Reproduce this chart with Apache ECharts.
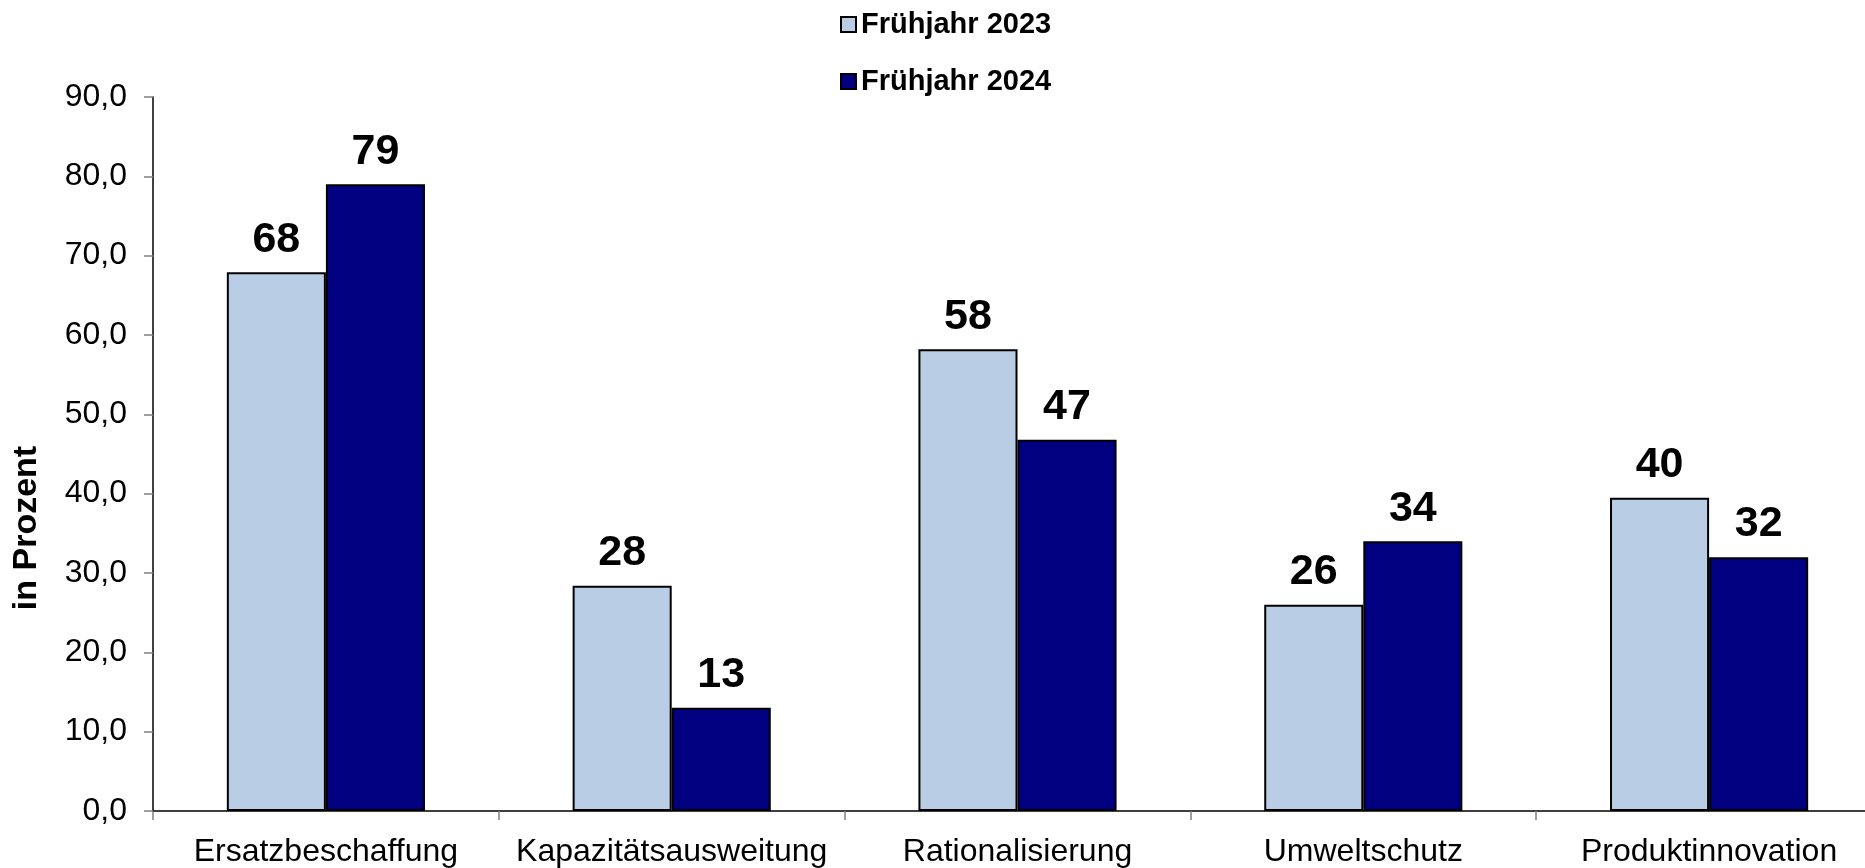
<!DOCTYPE html>
<html>
<head>
<meta charset="utf-8">
<script src="https://cdn.jsdelivr.net/npm/echarts@6/dist/echarts.min.js"></script>
<style>
  html, body { margin: 0; padding: 0; background: #fff; overflow: hidden; }
  /* Diagramm ist rechts angeschnitten, daher breiter als das Fenster */
  #main { width: 1890px; height: 868px; }
</style>
</head>
<body>
<div id="main"></div>
<script>
// Kategorien und Werte (in Prozent)
const categories = ['Ersatzbeschaffung', 'Kapazitätsausweitung', 'Rationalisierung', 'Umweltschutz', 'Produktinnovation'];
const seriesNames = ['Frühjahr 2023', 'Frühjahr 2024'];
const values2023 = [67.9, 28.4, 58.2, 26.0, 39.5];
const values2024 = [79.0, 13.0, 46.8, 34.0, 32.0];
const yTicks = [0, 10, 20, 30, 40, 50, 60, 70, 80, 90];

const font = '"Liberation Sans", Arial, sans-serif';

let myChart = echarts.init(document.getElementById('main'));

function barSeries(name, data, color) {
  return {
    name: name,
    type: 'bar',
    data: data,
    barGap: '0%',
    barCategoryGap: '42.7%',
    itemStyle: { color: color, borderColor: '#000', borderWidth: 2 },
    label: {
      show: true,
      position: 'top',
      distance: 11,
      fontFamily: font,
      fontSize: 43,
      fontWeight: 'bold',
      color: '#000',
      formatter: p => Math.round(p.value)
    }
  };
}

let option = {
  animation: false,
  textStyle: { fontFamily: font },
  legend: {
    orient: 'vertical',
    left: 835,
    top: 5,
    icon: 'rect',
    itemWidth: 15,
    itemHeight: 15,
    itemGap: 28,
    data: seriesNames,
    textStyle: { fontFamily: font, fontSize: 29, fontWeight: 'bold', color: '#000' }
  },
  grid: {
    left: 153,
    top: 97,
    width: 1729,
    height: 714
  },
  xAxis: {
    type: 'category',
    data: categories,
    axisLine: { lineStyle: { color: '#000', width: 1.5 } },
    axisTick: { show: true, interval: 0, length: 9, lineStyle: { color: '#808080', width: 1.5 } },
    axisLabel: { interval: 0, fontFamily: font, fontSize: 32, color: '#000', margin: 25 }
  },
  yAxis: {
    type: 'value',
    min: yTicks[0],
    max: yTicks[yTicks.length - 1],
    interval: 10,
    splitLine: { show: false },
    axisLine: { show: true, lineStyle: { color: '#000', width: 1.5 } },
    axisTick: { show: true, length: 9, lineStyle: { color: '#808080', width: 1.5 } },
    axisLabel: {
      fontFamily: font, fontSize: 32, color: '#000', margin: 26,
      formatter: v => v.toFixed(1).replace('.', ',')
    }
  },
  graphic: [{
    type: 'text',
    x: 27,
    y: 528,
    rotation: Math.PI / 2,
    style: {
      text: 'in Prozent',
      fontFamily: font,
      fontSize: 34,
      fontWeight: 'bold',
      fill: '#000',
      textAlign: 'center',
      textVerticalAlign: 'middle'
    }
  }],
  series: [
    barSeries(seriesNames[0], values2023, '#B9CDE5'),
    barSeries(seriesNames[1], values2024, '#000080')
  ]
};

myChart.setOption(option);
</script>
</body>
</html>
